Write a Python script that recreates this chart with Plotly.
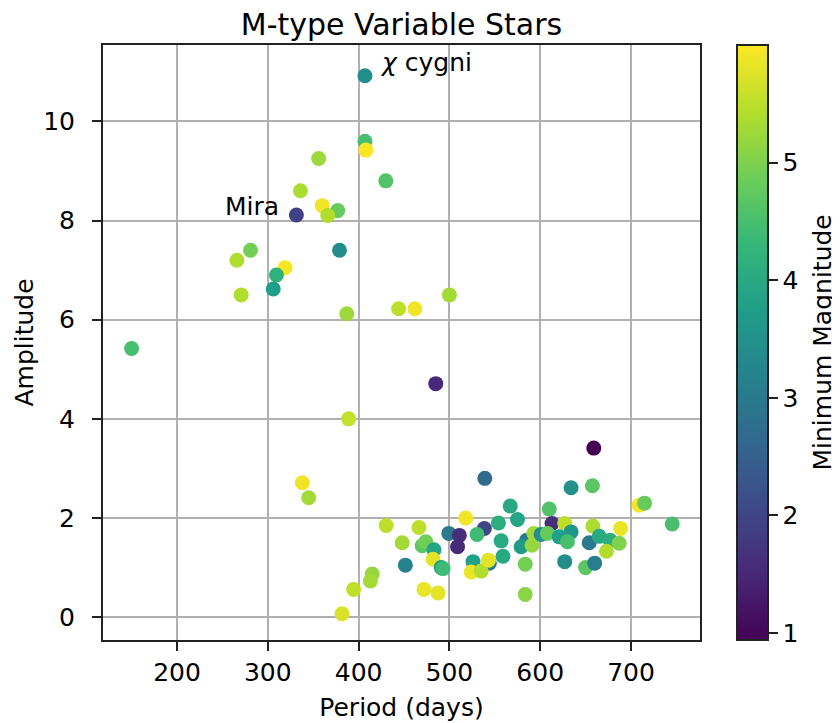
import plotly.graph_objects as go

# Period (days)
period = [150, 407, 407, 408, 356, 430, 336, 360, 377, 366,
          331.5, 379, 281, 266, 319, 309.5, 306, 270.7, 387, 444,
          462, 500, 485, 389, 338, 345, 659, 539, 634, 657.5,
          709, 715, 745.4, 567, 610, 518, 575, 554, 430.4, 466.5,
          613, 627, 658, 688.6, 634, 499.3, 511, 538.5, 530.4, 509,
          448, 470, 474, 483, 482, 491, 493, 451.5, 557, 559,
          526, 544, 524, 535, 585, 579, 591, 593, 601, 608,
          621, 630, 627, 583.5, 583.5, 654, 665, 677, 687, 673,
          650, 660, 472, 487.5, 415, 413, 394.5, 381.7, 543]

# Amplitude (mag)
amplitude = [5.42, 10.92, 9.6, 9.42, 9.25, 8.8, 8.6, 8.3, 8.2, 8.1,
             8.11, 7.4, 7.4, 7.2, 7.05, 6.9, 6.62, 6.5, 6.12, 6.22,
             6.22, 6.5, 4.71, 4.0, 2.71, 2.41, 3.41, 2.8, 2.61, 2.65,
             2.26, 2.3, 1.88, 2.24, 2.18, 2.0, 1.97, 1.9, 1.85, 1.81,
             1.89, 1.89, 1.84, 1.79, 1.72, 1.69, 1.65, 1.79, 1.67, 1.42,
             1.5, 1.44, 1.52, 1.36, 1.17, 1.0, 0.98, 1.05, 1.54, 1.23,
             1.12, 1.09, 0.91, 0.93, 1.55, 1.42, 1.45, 1.69, 1.67, 1.69,
             1.62, 1.52, 1.12, 1.07, 0.46, 1.5, 1.63, 1.55, 1.49, 1.33,
             1.0, 1.09, 0.56, 0.49, 0.87, 0.73, 0.56, 0.07, 1.15]

# Minimum magnitude (colour)
min_mag = [4.5, 3.45, 4.5, 6.0, 5.25, 4.6, 5.35, 5.9, 4.8, 5.4,
           1.95, 3.4, 4.9, 5.4, 5.95, 4.2, 3.75, 5.4, 5.25, 5.5,
           5.9, 5.3, 1.5, 5.55, 5.9, 5.3, 0.94, 2.7, 3.5, 4.7,
           5.95, 4.8, 4.5, 4.0, 4.6, 5.9, 3.9, 4.1, 5.5, 5.5,
           1.6, 5.5, 5.35, 5.85, 3.6, 3.0, 1.6, 2.0, 4.4, 1.55,
           5.3, 4.7, 4.9, 3.9, 5.8, 3.7, 4.4, 3.2, 4.0, 4.0,
           3.8, 3.1, 5.85, 5.4, 3.0, 3.7, 5.2, 5.3, 3.5, 4.8,
           3.8, 4.5, 3.4, 4.9, 5.1, 3.0, 4.0, 4.1, 5.0, 5.4,
           4.7, 3.1, 5.85, 5.8, 5.2, 5.3, 5.5, 5.7, 5.8]

# Labelled stars: (name, index into the arrays above)
label_names = ["Mira", "<i>χ</i> cygni"]
label_index = [10, 1]

x_ticks = [200, 300, 400, 500, 600, 700]
y_ticks = [0, 2, 4, 6, 8, 10]
cbar_ticks = [1, 2, 3, 4, 5]

FONT = "DejaVu Sans"
BODY = 8  # default page margin of the html body

W, H = 840 - BODY, 723 - BODY
L, R, T, B = 103 - BODY, 840 - 700, 45 - BODY, 723 - 640

fig = go.Figure()
fig.add_trace(go.Scatter(
    x=period, y=amplitude, mode="markers",
    marker=dict(
        size=15, color=min_mag, colorscale="Viridis",
        cmin=min(min_mag), cmax=max(min_mag),
        line=dict(width=0),
        colorbar=dict(
            x=1.062, xanchor="left", xpad=0, ypad=0,
            y=0.5, yanchor="middle", len=1, lenmode="fraction",
            thickness=31, outlinewidth=2, outlinecolor="#222",
            tickvals=cbar_ticks, ticks="outside", ticklen=9, tickwidth=2,
            tickcolor="#222",
            tickfont=dict(family=FONT, size=25, color="black"),
        ),
    ),
    showlegend=False,
))

# colorbar label
fig.add_annotation(x=(822 - 103) / 597, y=0.5, xref="paper", yref="paper",
                   text="Minimum Magnitude", textangle=-90, showarrow=False,
                   xanchor="center", yanchor="middle",
                   font=dict(family=FONT, size=25, color="black"))

# star labels
offsets = [(-15, 9, "right"), (13, 13, "left")]
for name, idx, (dx, dy, anc) in zip(label_names, label_index, offsets):
    fig.add_annotation(x=period[idx], y=amplitude[idx], text=name,
                       showarrow=False, xanchor=anc, yanchor="middle",
                       xshift=dx, yshift=dy,
                       font=dict(family=FONT, size=25, color="black"))

axis_common = dict(
    showgrid=True, gridcolor="#b0b0b0", gridwidth=2, automargin=False,
    zeroline=False, showline=True, linecolor="#222", linewidth=2,
    mirror=True, ticks="outside", ticklen=9, tickwidth=2, tickcolor="#222",
    tickfont=dict(family=FONT, size=25, color="black"),
)

fig.update_xaxes(range=[118.5, 776], tickvals=x_ticks,
                 title=dict(text="Period (days)", standoff=12,
                            font=dict(family=FONT, size=25, color="black")),
                 **axis_common)
fig.update_yaxes(range=[-0.46, 11.54], tickvals=y_ticks, ticklabelstandoff=12,
                 title=dict(text="Amplitude", standoff=2,
                            font=dict(family=FONT, size=25, color="black")),
                 **axis_common)

fig.update_layout(
    width=W, height=H,
    margin=dict(l=L, r=R, t=T, b=B, autoexpand=False),
    paper_bgcolor="white", plot_bgcolor="white",
    title=dict(text="M-type Variable Stars",
               x=((103 + 700) / 2 - BODY) / W, xanchor="center",
               y=1 - (24 - BODY) / H, yanchor="middle",
               font=dict(family=FONT, size=30, color="black")),
)

fig.write_html("out.html")
